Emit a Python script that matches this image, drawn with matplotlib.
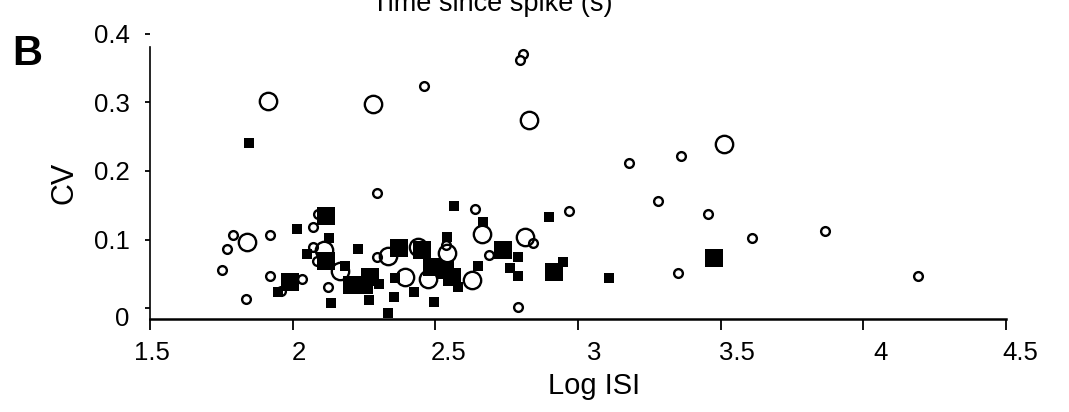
import matplotlib
matplotlib.use("Agg")
import matplotlib.pyplot as plt
import matplotlib.transforms as mtransforms

plt.rcParams['font.family'] = ['Liberation Sans', 'DejaVu Sans']

# small open circles (log ISI, CV)
small_circle_x = [2.46, 2.808, 2.797, 2.294, 3.18, 3.36, 3.28, 3.455, 2.967, 2.843,
                  3.61, 3.865, 3.35, 4.19, 2.79, 2.64, 2.688, 2.125, 2.296, 1.79,
                  1.771, 1.92, 1.751, 1.92, 1.836, 2.07, 2.09, 2.07, 2.087, 2.034,
                  1.96, 2.537]
small_circle_y = [0.324, 0.371, 0.362, 0.168, 0.211, 0.222, 0.156, 0.137, 0.141, 0.095,
                  0.102, 0.113, 0.051, 0.047, 0.001, 0.145, 0.078, 0.031, 0.075, 0.107,
                  0.086, 0.106, 0.055, 0.047, 0.013, 0.118, 0.137, 0.089, 0.068, 0.043,
                  0.025, 0.092]

# large open circles
big_circle_x = [1.913, 2.28, 2.829, 3.51, 1.841, 2.11, 2.166, 2.335, 2.393, 2.438,
                2.473, 2.542, 2.627, 2.662, 2.814]
big_circle_y = [0.302, 0.298, 0.275, 0.239, 0.096, 0.085, 0.054, 0.076, 0.046, 0.089,
                0.043, 0.081, 0.041, 0.108, 0.104]

# small filled squares
small_square_x = [1.846, 2.014, 2.051, 1.95, 2.128, 2.134, 2.183, 2.23, 2.268, 2.303,
                  2.333, 2.355, 2.358, 2.426, 2.496, 2.54, 2.566, 2.58, 2.65, 2.668,
                  2.79, 2.76, 2.79, 2.90, 2.948, 3.108]
small_square_y = [0.241, 0.116, 0.079, 0.023, 0.102, 0.008, 0.061, 0.086, 0.012, 0.035,
                  -0.008, 0.016, 0.044, 0.024, 0.009, 0.104, 0.149, 0.031, 0.062, 0.125,
                  0.075, 0.058, 0.047, 0.133, 0.067, 0.044]

# large filled squares
big_square_x = [2.117, 2.117, 1.99, 2.207, 2.25, 2.271, 2.374, 2.452, 2.533, 2.557,
                2.49, 2.738, 2.915, 3.476]
big_square_y = [0.134, 0.069, 0.038, 0.034, 0.034, 0.045, 0.087, 0.085, 0.055, 0.046,
                0.06, 0.085, 0.052, 0.073]

x_ticks = [1.5, 2, 2.5, 3, 3.5, 4, 4.5]
x_tick_labels = ['1.5', '2', '2.5', '3', '3.5', '4', '4.5']
y_ticks = [0, 0.1, 0.2, 0.3, 0.4]
y_tick_labels = ['0', '0.1', '0.2', '0.3', '0.4']

fig = plt.figure(figsize=(10.69, 4.12), dpi=100)
ax = fig.add_axes([150 / 1069, 1 - 318.5 / 412, 856 / 1069, 288.5 / 412])

ax.plot(small_circle_x, small_circle_y, 'o', ms=6.3, mfc='white', mec='black', mew=1.7,
        clip_on=False, zorder=3)
ax.plot(big_circle_x, big_circle_y, 'o', ms=12.5, mfc='none', mec='black', mew=1.7,
        clip_on=False, zorder=3)
ax.plot(small_square_x, small_square_y, 's', ms=7.5, mfc='black', mec='black', mew=0,
        clip_on=False, zorder=4)
ax.plot(big_square_x, big_square_y, 's', ms=13.5, mfc='black', mec='black', mew=0,
        clip_on=False, zorder=4)

ax.set_xlim(1.5, 4.5)
ax.set_ylim(-0.0153, 0.4058)

for side in ['top', 'right']:
    ax.spines[side].set_visible(False)
ax.spines['bottom'].set_linewidth(1.8)
ax.spines['left'].set_linewidth(1.2)
ax.spines['left'].set_bounds(-0.0153, 0.381)

ax.set_xticks(x_ticks)
ax.set_xticklabels(x_tick_labels, fontsize=18.5)
ax.set_yticks(y_ticks)
ax.set_yticklabels(y_tick_labels, fontsize=18.5)
ax.tick_params(axis='x', direction='out', length=8, width=1.3, pad=8)
ax.tick_params(axis='y', direction='out', length=3.5, width=1.3, pad=11)

# excel-style drift of the x labels (pixels)
x_label_shift = [2, 6, 13, 16, 16, 17, 14]
for lab, dx in zip(ax.get_xticklabels(), x_label_shift):
    shift = mtransforms.ScaledTranslation(dx / 100, 0, fig.dpi_scale_trans)
    lab.set_transform(lab.get_transform() + shift)
# the "0" label sits on the axis line, a bit under its tick
zero_lab = ax.get_yticklabels()[0]
zero_lab.set_transform(zero_lab.get_transform()
                       + mtransforms.ScaledTranslation(0, -8 / 100, fig.dpi_scale_trans))

fig.text(594 / 1069, 1 - 386 / 412, 'Log ISI', ha='center', va='center', fontsize=21)
fig.text(65 / 1069, 1 - 183 / 412, 'CV', ha='center', va='center', fontsize=22,
         rotation=90)
fig.text(492 / 1069, 1 - 11 / 412, 'Time since spike (s)', ha='center', va='baseline',
         fontsize=19.5)
fig.text(12 / 1069, 1 - 65 / 412, 'B', ha='left', va='baseline', fontsize=30,
         fontweight='bold')

fig.savefig('out.png', dpi=100)
